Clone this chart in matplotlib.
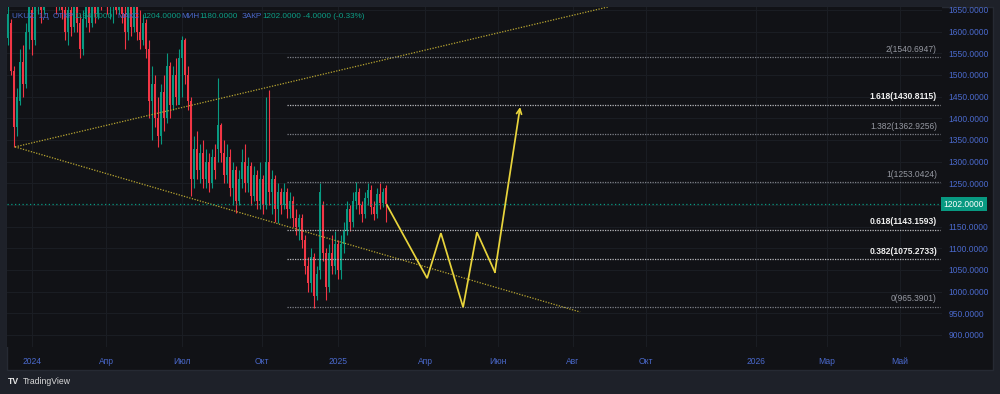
import matplotlib
matplotlib.use("Agg")
import matplotlib.pyplot as plt
from matplotlib import font_manager as fm
from matplotlib.patches import Rectangle

# ---------------- data ----------------
# daily candles (bar index = position in list)
opens = [1585, 1620, 1510, 1380, 1440, 1530, 1480, 1600, 1650, 1580,
         1690, 1700, 1650, 1720, 1680, 1730, 1690, 1660, 1700, 1650,
         1600, 1650, 1610, 1660, 1620, 1560, 1630, 1680, 1620, 1690,
         1640, 1700, 1680, 1720, 1660, 1700, 1730, 1650, 1700, 1640,
         1600, 1670, 1610, 1660, 1600, 1580, 1620, 1560, 1440, 1480,
         1400, 1360, 1460, 1400, 1520, 1430, 1500, 1430, 1540, 1580,
         1500, 1440, 1260, 1330, 1280, 1320, 1260, 1300, 1250, 1310,
         1330, 1385, 1320, 1270, 1310, 1240, 1280, 1210, 1260, 1300,
         1250, 1290, 1220, 1270, 1210, 1260, 1200, 1300, 1230, 1260,
         1190, 1230, 1200, 1230, 1190, 1210, 1170, 1150, 1170, 1120,
         1060, 1020, 1080, 990, 1050, 1200, 1090, 1010, 1090, 1060,
         1110, 1050, 1110, 1140, 1190, 1160, 1210, 1230, 1200, 1180,
         1215, 1235, 1195, 1180, 1225, 1205, 1240]
highs = [1665, 1630, 1520, 1470, 1560, 1570, 1620, 1700, 1680, 1720,
         1730, 1720, 1740, 1730, 1750, 1740, 1720, 1710, 1710, 1660,
         1670, 1660, 1680, 1670, 1640, 1650, 1700, 1690, 1700, 1700,
         1720, 1730, 1740, 1730, 1720, 1740, 1740, 1720, 1710, 1680,
         1690, 1680, 1680, 1670, 1650, 1640, 1630, 1580, 1520, 1500,
         1450, 1480, 1500, 1550, 1530, 1520, 1540, 1560, 1590, 1585,
         1520, 1450, 1360, 1370, 1340, 1350, 1330, 1320, 1330, 1340,
         1493, 1390, 1350, 1340, 1330, 1300, 1290, 1280, 1330, 1340,
         1310, 1300, 1290, 1280, 1300, 1270, 1450, 1465, 1280, 1270,
         1250, 1240, 1250, 1240, 1230, 1220, 1190, 1180, 1180, 1130,
         1080, 1100, 1090, 1060, 1251, 1210, 1100, 1110, 1130, 1140,
         1120, 1130, 1160, 1210, 1200, 1230, 1252, 1240, 1210, 1230,
         1250, 1245, 1210, 1240, 1250, 1240, 1245]
lows = [1570, 1500, 1334, 1360, 1430, 1450, 1470, 1560, 1545, 1570,
        1640, 1620, 1640, 1660, 1670, 1670, 1640, 1650, 1630, 1580,
        1570, 1590, 1600, 1600, 1540, 1545, 1610, 1600, 1610, 1620,
        1630, 1650, 1670, 1640, 1630, 1620, 1640, 1640, 1620, 1560,
        1580, 1590, 1600, 1580, 1560, 1570, 1540, 1400, 1350, 1380,
        1334, 1340, 1370, 1390, 1400, 1420, 1430, 1440, 1450, 1480,
        1420, 1220, 1240, 1260, 1250, 1240, 1240, 1230, 1240, 1260,
        1300, 1300, 1250, 1250, 1220, 1200, 1181, 1200, 1240, 1230,
        1230, 1200, 1210, 1190, 1190, 1180, 1190, 1200, 1180, 1160,
        1158, 1180, 1190, 1170, 1170, 1150, 1130, 1120, 1100, 1040,
        1000, 1000, 962, 980, 1030, 1070, 980, 1000, 1040, 1040,
        1030, 1030, 1090, 1130, 1140, 1150, 1190, 1180, 1160, 1170,
        1200, 1180, 1165, 1170, 1190, 1195, 1160]
closes = [1640, 1510, 1380, 1450, 1530, 1480, 1600, 1660, 1580, 1690,
          1700, 1650, 1720, 1680, 1730, 1690, 1660, 1700, 1650, 1600,
          1650, 1610, 1660, 1620, 1560, 1630, 1680, 1620, 1690, 1640,
          1700, 1680, 1720, 1660, 1700, 1730, 1650, 1700, 1640, 1600,
          1670, 1610, 1660, 1600, 1580, 1620, 1560, 1440, 1480, 1400,
          1360, 1460, 1400, 1520, 1430, 1500, 1450, 1540, 1580, 1500,
          1440, 1260, 1330, 1280, 1320, 1260, 1300, 1250, 1310, 1280,
          1385, 1320, 1270, 1310, 1240, 1280, 1210, 1260, 1300, 1250,
          1290, 1220, 1270, 1210, 1260, 1200, 1300, 1230, 1260, 1190,
          1230, 1200, 1230, 1190, 1210, 1170, 1150, 1170, 1120, 1060,
          1020, 1080, 990, 1040, 1230, 1090, 1010, 1090, 1060, 1110,
          1050, 1110, 1140, 1190, 1160, 1210, 1230, 1200, 1180, 1215,
          1235, 1195, 1180, 1225, 1205, 1230, 1202]

last_price = 1202.0

# triangle (dotted yellow) anchor points: (bar, price)
tri_vertex = (2.33, 1334)
tri_upper_end = (200.0, 1657)
tri_lower_end = (190.7, 953)

# projected zigzag path (bar, price)
zig_x = [126.3, 139.7, 144.3, 151.7, 156.3, 162.3, 170.7]
zig_y = [1200, 1031, 1135, 964, 1137, 1045, 1426]

# Fibonacci levels
fib_ratios = ["0", "0.382", "0.618", "1", "1.382", "1.618", "2"]
fib_values = [965.3901, 1075.2733, 1143.1593, 1253.0424, 1362.9256, 1430.8115, 1540.6947]
fib_bright = [False, True, True, False, False, True, False]
fib_start = 93.0

# axes ticks
price_ticks = [900, 950, 1000, 1050, 1100, 1150, 1200, 1250, 1300, 1350, 1400,
               1450, 1500, 1550, 1600, 1650]
time_tick_pos = [8, 32.67, 58, 84.67, 110, 139, 163.33, 188.33, 212.67, 249.33, 273, 297.33]
time_tick_lab = ["2024", "Апр", "Июл", "Окт", "2025", "Апр", "Июн", "Авг", "Окт",
                 "2026", "Мар", "Май"]

# ---------------- style ----------------
names = {f.name for f in fm.fontManager.ttflist}
if "Liberation Sans Narrow" in names:
    FONT = ["Liberation Sans Narrow", "DejaVu Sans"]
    FS = 6.7
else:
    FONT = ["Liberation Sans", "DejaVu Sans"]
    FS = 5.6
AFS = FS * 1.1
plt.rcParams["font.family"] = FONT

OUTER = "#1e2129"
CHART = "#111216"
GRID = "#1a1d23"
BLUE = "#4a69cc"
TEAL = "#0c9e86"
RED = "#f23645"
GREEN = "#089981"
YEL = "#e8d43c"

W, H = 1000, 394
fig = plt.figure(figsize=(W / 100, H / 100), dpi=100, facecolor=OUTER)

def fx(px):
    return px / W

def fy(py):
    return 1 - py / H

# pane background
pane = Rectangle((fx(7), fy(370)), fx(993) - fx(7), fy(7) - fy(370),
                 transform=fig.transFigure, facecolor=CHART,
                 edgecolor="#262a33", lw=1, zorder=-5)
fig.patches.append(pane)

ax = fig.add_axes([fx(7), fy(347), fx(942) - fx(7), fy(7) - fy(347)])
ax.set_zorder(1)
ax.set_facecolor(CHART)
for s in ax.spines.values():
    s.set_visible(False)
ax.set_xlim(-1 / 3, 311.33)
ax.set_ylim(872.2, 1656.9)

# grid
for p in price_ticks:
    ax.axhline(p, color=GRID, lw=0.8, zorder=0)
for t in time_tick_pos:
    ax.axvline(t, color=GRID, lw=0.8, zorder=0)

# candles
idx = list(range(len(closes)))
for i in idx:
    o, h, l, c = opens[i], highs[i], lows[i], closes[i]
    col = GREEN if c >= o else RED
    ax.vlines(i, l, h, color=col, lw=0.8, zorder=2)
    ax.bar(i, abs(c - o), bottom=min(o, c), width=0.62, color=col, lw=0, zorder=3)

# triangle lines
ax.plot([tri_vertex[0], tri_upper_end[0]], [tri_vertex[1], tri_upper_end[1]],
        color="#b9a631", lw=0.9, ls=(0, (1, 1.2)), zorder=4)
ax.plot([tri_vertex[0], tri_lower_end[0]], [tri_vertex[1], tri_lower_end[1]],
        color="#b9a631", lw=0.9, ls=(0, (1, 1.2)), zorder=4)

# fib levels
xmax = 311.33
for r, v, b in zip(fib_ratios, fib_values, fib_bright):
    lc = "#b8b8bc" if b else "#7d8088"
    ax.plot([fib_start, xmax - 0.6], [v, v], color=lc, lw=0.9, ls=(0, (1, 1)), zorder=4)
    ax.annotate(f"{r}({v:.4f})", xy=(xmax - 1.7, v), xytext=(0, 2.5),
                textcoords="offset points", ha="right", va="bottom",
                color="#f0f0f0" if b else "#9598a1",
                fontsize=AFS, fontweight="bold" if b else "normal", zorder=6)

# last price line
ax.axhline(last_price, color=GREEN, lw=0.9, ls=(0, (1, 2)), zorder=4)

# zigzag projection
ax.plot(zig_x[:-1], zig_y[:-1], color=YEL, lw=1.25, zorder=5, solid_joinstyle="miter")
ax.annotate("", xy=(zig_x[-1], zig_y[-1]), xytext=(zig_x[-2], zig_y[-2]),
            arrowprops=dict(arrowstyle="->", color=YEL, lw=1.25, mutation_scale=9,
                            shrinkA=0, shrinkB=0), zorder=5)

# price axis (label at the last price is hidden by the price box)
ax.yaxis.tick_right()
ax.set_yticks(price_ticks)
ax.set_yticklabels(["" if p == 1200 else f"{p:.4f}" for p in price_ticks])
ax.tick_params(axis="y", length=0, pad=4.5, labelsize=AFS, labelcolor=BLUE)
ax.text(1.0018, last_price, f"{last_price:.4f}", transform=ax.get_yaxis_transform(),
        ha="left", va="center", color="white", fontsize=AFS, zorder=10,
        bbox=dict(boxstyle="square,pad=0.32", facecolor=GREEN, edgecolor="none"),
        clip_on=False)

# time axis
ax.set_xticks(time_tick_pos)
ax.set_xticklabels(time_tick_lab)
ax.tick_params(axis="x", length=0, pad=7, labelsize=AFS, labelcolor=BLUE)

# header legend
hdr = [("UKUZ, 1Д", 12, BLUE), ("ОТКР", 53, BLUE), ("1194.0000", 74, TEAL),
       ("МАКС", 117, BLUE), ("1204.0000", 142, TEAL), ("МИН", 181, BLUE),
       ("1180.0000", 199, TEAL), ("ЗАКР", 242, BLUE), ("1202.0000", 262, TEAL),
       ("-4.0000 (-0.33%)", 303, TEAL)]
for txt, px, col in hdr:
    fig.text(fx(px), fy(17), txt, color=col, fontsize=FS + 0.3, ha="left",
             va="center", zorder=20)

# TradingView logo
fig.text(fx(8), fy(381), "TV", color="#e6e6e6", fontsize=FS + 0.6,
         fontweight="heavy", ha="left", va="center")
fig.text(fx(23), fy(381), "TradingView", color="#d8d8d8", fontsize=FS + 0.6,
         ha="left", va="center")

fig.savefig("out.png", dpi=100, facecolor=OUTER)
